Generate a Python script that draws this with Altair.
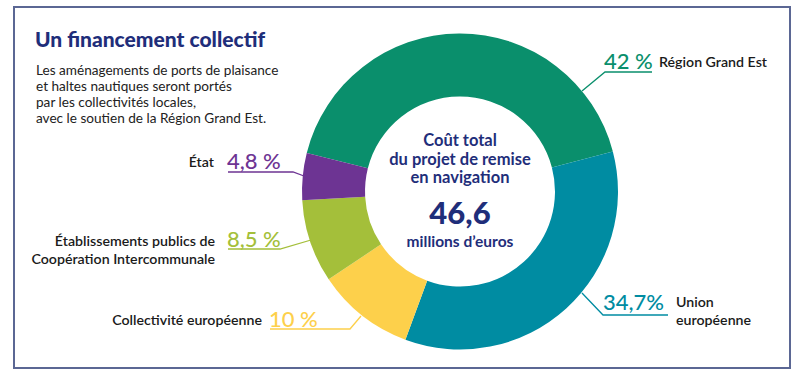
import math
import altair as alt
import pandas as pd

# ---- data ----
categories = ["Région Grand Est", "Union européenne", "Collectivité européenne",
              "Établissements publics de Coopération Intercommunale", "État"]
shares = [42, 34.7, 10, 8.5, 4.8]
pct_labels = ["42 %", "34,7%", "10 %", "8,5 %", "4,8 %"]
colors = ["#0a8f6c", "#008ca2", "#fdd04b", "#a4bf3a", "#6d3493"]

name_lines = [["Région Grand Est"], ["Union", "européenne"], ["Collectivité européenne"],
              ["Établissements publics de", "Coopération Intercommunale"], ["État"]]

title_text = "Un financement collectif"
subtitle_lines = ["Les aménagements de ports de plaisance",
                  "et haltes nautiques seront portés",
                  "par les collectivités locales,",
                  "avec le soutien de la Région Grand Est."]
center_lines = ["Coût total", "du projet de remise", "en navigation"]
center_value = "46,6"
center_unit = "millions d’euros"

# ---- layout ----
W, H = 800, 377
CX, CY, R_OUT, R_IN = 460, 191.5, 158, 95
start = math.radians(284.1)

NAVY = "#1f2e7a"
FONT = "Lato"

xs = alt.Scale(domain=[0, W], range=[0, W])
ys = alt.Scale(domain=[0, H], range=[0, H])

df = pd.DataFrame({"cat": categories, "share": shares, "order": range(len(categories))})

donut = alt.Chart(df).mark_arc(innerRadius=R_IN, outerRadius=R_OUT).encode(
    theta=alt.Theta("share:Q", stack=True, scale=alt.Scale(range=[start, start + 2 * math.pi])),
    order=alt.Order("order:Q"),
    color=alt.Color("cat:N", scale=alt.Scale(domain=categories, range=colors), legend=None),
    x=alt.value(CX), y=alt.value(CY),
)

# label anchors (annotation layout)
pct_pos = [(604, 62), (603, 303), (269, 320), (227, 240), (227, 162)]
name_pos = [(659, 63, "left"), (676, 303, "left"), (262, 321, "right"),
            (215, 242, "right"), (214, 163, "right")]
leaders = [
    [(652, 72), (605, 72), (582, 91)],
    [(668, 315), (603, 315), (582, 293)],
    [(270, 329), (350, 329), (361, 316)],
    [(228, 249), (280, 249), (311, 240)],
    [(228, 172), (293, 172), (304, 176)],
]

pct_df = pd.DataFrame({"cat": categories, "t": pct_labels,
                       "x": [p[0] for p in pct_pos], "y": [p[1] for p in pct_pos]})
pct_layer = alt.Chart(pct_df).mark_text(align="left", baseline="middle", font=FONT,
                                        fontSize=22, fontWeight=500).encode(
    x=alt.X("x:Q", scale=xs, axis=None), y=alt.Y("y:Q", scale=ys, axis=None),
    text="t:N",
    color=alt.Color("cat:N", scale=alt.Scale(domain=categories, range=colors), legend=None),
)

rows = []
for lines, (x, y, a) in zip(name_lines, name_pos):
    for i, ln in enumerate(lines):
        rows.append({"t": ln, "x": x, "y": y + i * 18, "a": a})
name_df = pd.DataFrame(rows)
name_layers = []
for a in ["left", "right"]:
    name_layers.append(alt.Chart(name_df[name_df.a == a]).mark_text(
        align=a, baseline="middle", font=FONT, fontSize=14.2, fontWeight=600, color="#1a1a1a").encode(
        x=alt.X("x:Q", scale=xs, axis=None), y=alt.Y("y:Q", scale=ys, axis=None), text="t:N"))

lrows = []
for cat, pts in zip(categories, leaders):
    for k, (x, y) in enumerate(pts):
        lrows.append({"cat": cat, "k": k, "x": x, "y": y})
lead_df = pd.DataFrame(lrows)
lead_layer = alt.Chart(lead_df).mark_line(strokeWidth=1.3).encode(
    x=alt.X("x:Q", scale=xs, axis=None), y=alt.Y("y:Q", scale=ys, axis=None),
    detail="cat:N", order="k:Q",
    color=alt.Color("cat:N", scale=alt.Scale(domain=categories, range=colors), legend=None),
)

# title / subtitle
title_df = pd.DataFrame({"t": [title_text], "x": [35], "y": [41]})
title_layer = alt.Chart(title_df).mark_text(align="left", baseline="middle", font=FONT,
                                            fontSize=21, fontWeight=900, color=NAVY).encode(
    x=alt.X("x:Q", scale=xs, axis=None), y=alt.Y("y:Q", scale=ys, axis=None), text="t:N")

sub_df = pd.DataFrame({"t": subtitle_lines, "x": [36] * 4, "y": [71 + 16 * i for i in range(4)]})
sub_layer = alt.Chart(sub_df).mark_text(align="left", baseline="middle", font=FONT,
                                        fontSize=13.6, color="#222222").encode(
    x=alt.X("x:Q", scale=xs, axis=None), y=alt.Y("y:Q", scale=ys, axis=None), text="t:N")

c_df = pd.DataFrame({"t": center_lines, "x": [CX] * 3, "y": [141, 159.5, 178]})
c_layer = alt.Chart(c_df).mark_text(align="center", baseline="middle", font=FONT,
                                    fontSize=16.5, fontWeight=700, color=NAVY).encode(
    x=alt.X("x:Q", scale=xs, axis=None), y=alt.Y("y:Q", scale=ys, axis=None), text="t:N")

v_df = pd.DataFrame({"t": [center_value], "x": [CX], "y": [215]})
v_layer = alt.Chart(v_df).mark_text(align="center", baseline="middle", font=FONT,
                                    fontSize=31, fontWeight=900, color=NAVY).encode(
    x=alt.X("x:Q", scale=xs, axis=None), y=alt.Y("y:Q", scale=ys, axis=None), text="t:N")

u_df = pd.DataFrame({"t": [center_unit], "x": [CX], "y": [242]})
u_layer = alt.Chart(u_df).mark_text(align="center", baseline="middle", font=FONT,
                                    fontSize=15.5, fontWeight=700, color=NAVY).encode(
    x=alt.X("x:Q", scale=xs, axis=None), y=alt.Y("y:Q", scale=ys, axis=None), text="t:N")

frame_df = pd.DataFrame({"x": [14], "x2": [790], "y": [7], "y2": [368]})
frame = alt.Chart(frame_df).mark_rect(fill=None, stroke="#5b6794", strokeWidth=2).encode(
    x=alt.X("x:Q", scale=xs, axis=None), x2="x2:Q",
    y=alt.Y("y:Q", scale=ys, axis=None), y2="y2:Q")

chart = alt.layer(frame, donut, lead_layer, pct_layer, *name_layers, title_layer, sub_layer,
                  c_layer, v_layer, u_layer).properties(
    width=W, height=H, padding=0, autosize=alt.AutoSizeParams(type="none"),
    background="white",
).configure_view(stroke=None)

chart.save("out.html", embed_options={"renderer": "svg", "actions": False})
